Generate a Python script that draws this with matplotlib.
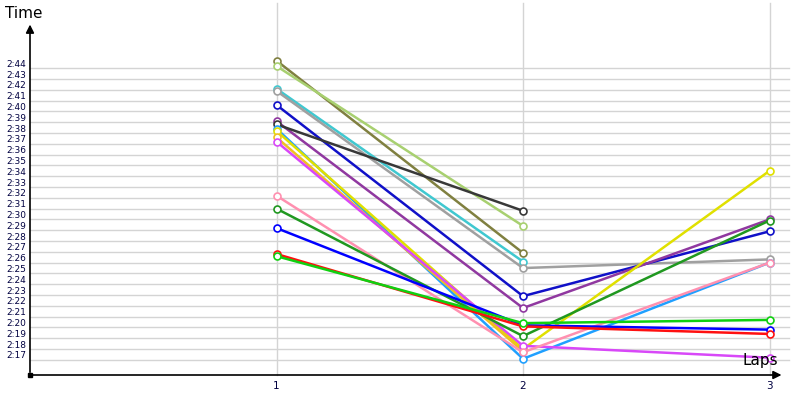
import numpy as np
import matplotlib
matplotlib.use("Agg")
import matplotlib.pyplot as plt
import matplotlib.transforms as mtransforms

# lap times in seconds (2:17 -> 137), NaN = no lap
laps = [1, 2, 3]
nan = np.nan
olive = [164.7, 146.9, nan]
yellowgreen = [164.2, 149.4, nan]
turquoise = [162.1, 146.1, nan]
grey = [161.9, 145.5, 146.3]
navy = [160.6, 142.9, 148.9]
purple = [159.1, 141.8, 150.0]
dark = [158.8, 150.8, nan]
skyblue = [158.4, 137.1, 146.0]
yellow = [158.2, 138.0, 154.5]
gold = [157.6, 137.8, nan]
violet = [157.2, 138.3, 137.2]
pink = [152.2, 137.7, 146.0]
green = [151.0, 139.2, 149.9]
blue = [149.2, 140.2, 139.8]
red = [146.8, 140.1, 139.4]
lime = [146.6, 140.4, 140.7]

series = [
	(olive, '#808040'), (yellowgreen, '#a8d070'), (turquoise, '#40c8d0'),
	(grey, '#a0a0a0'), (navy, '#1010c8'), (purple, '#9038a0'),
	(dark, '#383838'), (skyblue, '#20a0ff'), (yellow, '#e0e000'),
	(gold, '#f0c020'), (violet, '#d848f8'), (pink, '#ff90b0'),
	(green, '#209820'), (blue, '#0000ff'), (red, '#ff1010'),
	(lime, '#10d010'),
]
ytick_vals = list(range(137, 165))
ytick_labels = ["2:%02d" % (v - 120) for v in ytick_vals]

fig = plt.figure(figsize=(8, 4), dpi=100)
ax = fig.add_axes([30/800, 25/400, 770/800, 350/400])
x0, x1 = 0.0, 770/246.5
y0, y1 = 135.6, 168.0
ax.set_xlim(x0, x1)
ax.set_ylim(y0, y1)
for s in ax.spines.values():
	s.set_visible(False)
ax.set_xticks([])
ax.set_yticks([])

# grid
for v in ytick_vals:
	ax.plot([x0, 3.08], [v, v], color='#d4d4d4', lw=1, zorder=0)
for l in laps:
	ax.plot([l, l], [y0, y1 + 2], color='#d4d4d4', lw=1, zorder=0, clip_on=False)

# data
for vals, c in series:
	ax.plot(laps, vals, '-o', color=c, lw=1.8, markersize=5,
			markerfacecolor='white', markeredgecolor=c, markeredgewidth=1.2, zorder=3)

# axes arrows
ax.annotate('', xy=(0, 168.3), xytext=(0, y0), xycoords='data',
			arrowprops=dict(arrowstyle='-|>', color='black', lw=1.2, mutation_scale=12),
			annotation_clip=False)
ax.annotate('', xy=(3.06, y0), xytext=(0, y0), xycoords='data',
			arrowprops=dict(arrowstyle='-|>', color='black', lw=1.2, mutation_scale=12),
			annotation_clip=False)
ax.plot([0], [y0], 's', color='black', markersize=3, clip_on=False, zorder=5)

# tick labels
off = mtransforms.offset_copy(ax.transData, fig=fig, x=-4, y=4, units='dots')
for v, lab in zip(ytick_vals, ytick_labels):
	ax.text(0, v, lab, transform=off, ha='right', va='center', fontsize=6.5,
			color='#000040', family='DejaVu Sans', clip_on=False)
for l in laps:
	ax.text(l, y0 - 0.6, str(l), ha='center', va='top', fontsize=7.5, color='#000040',
			clip_on=False)

fig.text(5/800, 1 - 14/400, 'Time', ha='left', va='center', fontsize=11, color='black')
ax.text(3.035, 136.9, 'Laps', ha='right', va='center', fontsize=11, color='black')

fig.savefig('out.png', dpi=100, facecolor='white')
